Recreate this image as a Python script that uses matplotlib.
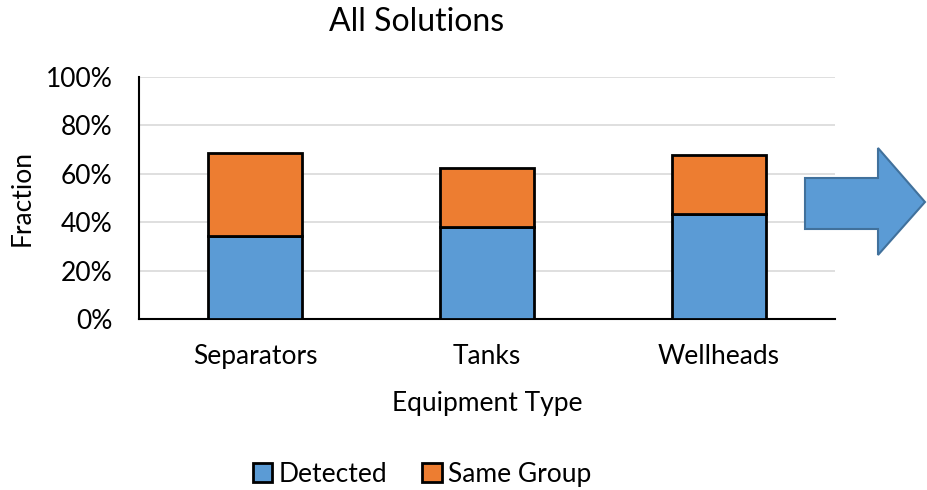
import matplotlib.pyplot as plt
from matplotlib.patches import Polygon
import numpy as np

# stacked fractions per equipment type
categories = ['Separators', 'Tanks', 'Wellheads']
detected = [0.343, 0.382, 0.432]
same_group = [0.342, 0.240, 0.245]
yticks = [0, 0.2, 0.4, 0.6, 0.8, 1.0]
ytick_labels = ['0%', '20%', '40%', '60%', '80%', '100%']

blue = '#5B9BD5'
orange = '#ED7D31'

plt.rcParams['font.family'] = ['Lato', 'DejaVu Sans']

fig = plt.figure(figsize=(9.27, 4.9), dpi=100)
ax = fig.add_axes([139/927, 1 - 319/490, (835 - 139)/927, (319 - 77)/490])

x = np.arange(len(categories))
ax.bar(x, detected, width=0.405, color=blue, edgecolor='black', linewidth=2, zorder=3, label='Detected')
ax.bar(x, same_group, bottom=detected, width=0.405, color=orange, edgecolor='black', linewidth=2, zorder=3, label='Same Group')

ax.set_xlim(-0.5, len(categories) - 0.5)
ax.set_ylim(0, 1.0)
ax.set_yticks(yticks)
ax.set_yticklabels(ytick_labels, fontsize=19)
ax.set_xticks(x)
ax.set_xticklabels(categories, fontsize=19)
ax.tick_params(length=0)
ax.tick_params(axis='y', pad=19)
ax.tick_params(axis='x', pad=18)
ax.grid(axis='y', color='#D9D9D9', linewidth=1.2, zorder=0)

for side in ['top', 'right']:
    ax.spines[side].set_visible(False)
ax.spines['left'].set_linewidth(1.5)
ax.spines['bottom'].set_linewidth(1.5)

ax.set_ylabel('Fraction', fontsize=19, labelpad=8)
ax.set_xlabel('Equipment Type', fontsize=19, labelpad=16)
fig.text(417/927, 1 - 22/490, 'All Solutions', fontsize=23, ha='center', va='center')

fig.legend(loc='center', bbox_to_anchor=(422/927, 1 - 474/490), ncol=2, frameon=False,
           fontsize=19, handlelength=0.75, handleheight=0.75, handletextpad=0.25, columnspacing=1.3)

# block arrow on the right side
pts = [(805, 178), (878, 178), (878, 148), (925, 202), (878, 255), (878, 229), (805, 229)]
arrow = Polygon([(px / 927, 1 - py / 490) for px, py in pts], closed=True,
                facecolor=blue, edgecolor='#41719C', linewidth=1.5, transform=fig.transFigure)
fig.patches.append(arrow)

fig.savefig('out.png', dpi=100)
